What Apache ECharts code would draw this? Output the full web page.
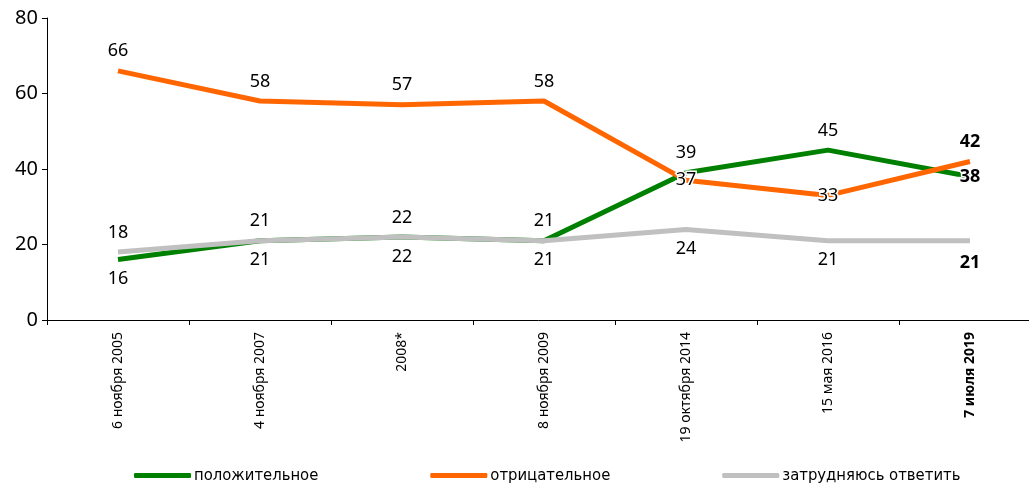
<!DOCTYPE html>
<html>
<head>
<meta charset="utf-8">
<script src="https://cdn.jsdelivr.net/npm/echarts@6/dist/echarts.min.js"></script>
<style>
  html, body { margin: 0; padding: 0; background: #fff; }
  #chart { width: 1029px; height: 486px; }
</style>
</head>
<body>
<div id="chart"></div>
<script>
var categories = ["6 ноября 2005", "4 ноября 2007", "2008*", "8 ноября 2009", "19 октября 2014", "15 мая 2016", "7 июля 2019"];
var positive = [16, 21, 22, 21, 39, 45, 38];
var negative = [66, 58, 57, 58, 37, 33, 42];
var undecided = [18, 21, 22, 21, 24, 21, 21];
var yTicks = [0, 20, 40, 60, 80];

// where each value label sits relative to its point
var posLabels = ["bottom", "top", "top", "top", "top", "top", "inside"];
var negLabels = ["top", "top", "top", "top", "inside", "inside", "top"];
var undLabels = ["top", "bottom", "bottom", "bottom", "bottom", "bottom", "bottom"];

var last = categories.length - 1;

function makeData(values, places) {
  return values.map(function (v, i) {
    var lbl = { position: places[i] };
    if (i === last) lbl.fontWeight = "bold";
    if (places[i] === "inside" && i === last) lbl.offset = [0, 8];
    if (places[i] === "bottom" && i === last) lbl.distance = 13;
    return { value: v, label: lbl };
  });
}

function makeSeries(name, values, places, color) {
  return {
    name: name,
    type: "line",
    data: makeData(values, places),
    symbol: "circle",
    showSymbol: true,
    symbolSize: 1,
    lineStyle: { width: 5, color: color },
    itemStyle: { color: color, opacity: 0 },
    label: {
      show: true,
      distance: 10,
      color: "#000",
      opacity: 1,
      fontSize: 18,
      fontFamily: "Noto Sans",
      textBorderColor: "#fff",
      textBorderWidth: 3
    },
    labelLayout: { hideOverlap: false },
    emphasis: { disabled: true },
    animation: false
  };
}

var chart = echarts.init(document.getElementById("chart"));
chart.setOption({
  animation: false,
  grid: { left: 47, width: 994, top: 18, height: 302, containLabel: false, outerBoundsMode: "none" },
  legend: {
    top: 467,
    left: 134,
    padding: 0,
    itemWidth: 57,
    itemHeight: 5,
    itemGap: 112,
    icon: "roundRect",
    itemStyle: { opacity: 1 },
    textStyle: { fontFamily: "DejaVu Sans Condensed", fontSize: 16.5, color: "#000", padding: [0, 0, 0, -2] },
    data: ["положительное", "отрицательное", "затрудняюсь ответить"]
  },
  xAxis: {
    type: "category",
    data: categories,
    boundaryGap: true,
    axisLine: { lineStyle: { color: "#000", width: 1 } },
    axisTick: { show: true, length: 5, lineStyle: { color: "#000" } },
    axisLabel: {
      rotate: 90,
      interval: 0,
      color: "#000",
      fontSize: 14,
      fontFamily: "Noto Sans",
      margin: 12,
      formatter: function (v, i) {
        return i === last ? "{b|" + v + "}" : v;
      },
      rich: { b: { fontWeight: "bold", fontSize: 14, fontFamily: "Noto Sans" } }
    }
  },
  yAxis: {
    type: "value",
    min: yTicks[0],
    max: yTicks[yTicks.length - 1],
    interval: 20,
    splitLine: { show: false },
    axisLine: { show: true, lineStyle: { color: "#000", width: 1 } },
    axisTick: { show: true, length: 5, lineStyle: { color: "#000" } },
    axisLabel: { color: "#000", fontSize: 20, fontFamily: "Noto Sans", margin: 9 }
  },
  series: [
    makeSeries("положительное", positive, posLabels, "#008000"),
    makeSeries("отрицательное", negative, negLabels, "#FF6600"),
    makeSeries("затрудняюсь ответить", undecided, undLabels, "#C0C0C0")
  ]
});
</script>
</body>
</html>
